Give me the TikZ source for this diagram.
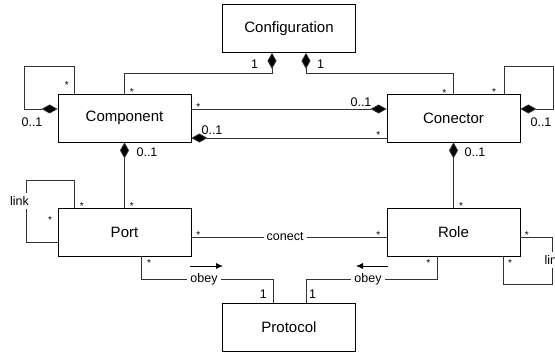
\documentclass[tikz,border=0pt]{standalone}
\usepackage{fontspec}
\setmainfont{Liberation Sans}
\usetikzlibrary{arrows.meta}
\begin{document}
\begin{tikzpicture}[x=1pt,y=-1pt,
  cls/.style={draw=black, line width=0.8pt, minimum width=133pt, minimum height=48pt, inner sep=0pt, font=\fontsize{15}{18}\selectfont, fill=white},
  conn/.style={draw=black!80, line width=0.8pt},
  dia/.style={conn, {Diamond[length=16pt,width=9pt,fill=black]}-},
  lbl/.style={inner sep=0pt, font=\fontsize{12.5}{15}\selectfont},
  st/.style={inner sep=0pt, font=\fontsize{10}{12}\selectfont},
  gap/.style={lbl, fill=white, inner sep=3pt},
  dirarrow/.style={draw=black, line width=0.8pt, -{Latex[length=7pt,width=6pt]}},
]
\useasboundingbox (0,0) rectangle (555,352);
% classes
\node[cls] (cfg)  at (289,28.5) {Configuration};
\node[cls] (comp) at (124.5,118) {Component};
\node[cls] (con)  at (453.5,118) {Conector};
\node[cls] (port) at (124.5,232) {Port};
\node[cls] (role) at (453.5,232) {Role};
\node[cls] (prot) at (289,327) {Protocol};
% bend points
\coordinate (k1) at (124.5,73);
\coordinate (k2) at (453.5,73);
\coordinate (pl) at (26,180);
\coordinate (rl) at (552,284);
\coordinate (o1) at (273,279);
\coordinate (o2) at (306,279);
% configuration compositions
\draw[dia] ([xshift=-17pt]cfg.south) |- (k1) -- (comp.north);
\draw[dia] ([xshift=17pt]cfg.south) |- (k2) -- (con.north);
% self loops on component / conector
\draw[dia] ([yshift=9pt]comp.west) -- ++(-33,0) -- ++(0,-43) -| ([xshift=17pt]comp.north west);
\draw[dia] ([yshift=9pt]con.east) -- ++(33,0) -- ++(0,-43) -| ([xshift=-16pt]con.north east);
% component <-> conector
\draw[dia] ([yshift=9pt]con.west) -- ([yshift=9pt]comp.east);
\draw[dia] ([yshift=-20pt]comp.east) -- ([yshift=-20pt]con.west);
% to port / role
\draw[dia] (comp.south) -- (port.north);
\draw[dia] (con.south) -- (role.north);
% port link loop
\draw[conn] ([xshift=17pt]port.north west) |- (pl) |- ([yshift=-10pt]port.west);
\node[gap] (lk1) at (19.5,201) {link};
% role link loop
\draw[conn] ([yshift=-5pt]role.east) -| (rl) -| ([xshift=-17pt]role.south east);
\node[gap] (lk2) at (554,260) {link};
% conect
\draw[conn] ([yshift=-5pt]port.east) -- node[gap, pos=0.48] (cn) {conect} ([yshift=-5pt]role.west);
% obey
\draw[conn] ([xshift=17pt]port.south) |- (o1) -- ([xshift=-16pt]prot.north);
\node[gap] (ob1) at (204,279) {obey};
\draw[conn] ([xshift=-16.5pt]role.south) |- (o2) -- ([xshift=17pt]prot.north);
\node[gap] (ob2) at (368,279) {obey};
\coordinate (a1s) at (190,266); \coordinate (a1e) at (223,266);
\coordinate (a2s) at (388,266); \coordinate (a2e) at (356,266);
\draw[dirarrow] (a1s) -- (a1e);
\draw[dirarrow] (a2s) -- (a2e);
% multiplicities
\node[lbl] at (254.5,64.5) {1};
\node[lbl] at (320.5,64.5) {1};
\node[lbl] at (32,122) {0..1};
\node[lbl] at (541,122) {0..1};
\node[lbl] at (361,102) {0..1};
\node[lbl] at (212,130) {0..1};
\node[lbl] at (147,152) {0..1};
\node[lbl] at (475,152) {0..1};
\node[lbl] at (263.3,294) {1};
\node[lbl] at (312.7,294) {1};
% stars
\foreach \p in {(131.7,92),(66.7,85.3),(198.3,107),(444.3,93),(494,92),(378.3,135.3),
  (131.7,206.3),(81.7,206.3),(50,220.3),(198.3,235.3),(149,262.7),(461,206.3),(378.3,235.3),
  (428.3,262.7),(526.7,235.3),(510,262.7)}
  \node[st] at \p {*};
\end{tikzpicture}
\end{document}
